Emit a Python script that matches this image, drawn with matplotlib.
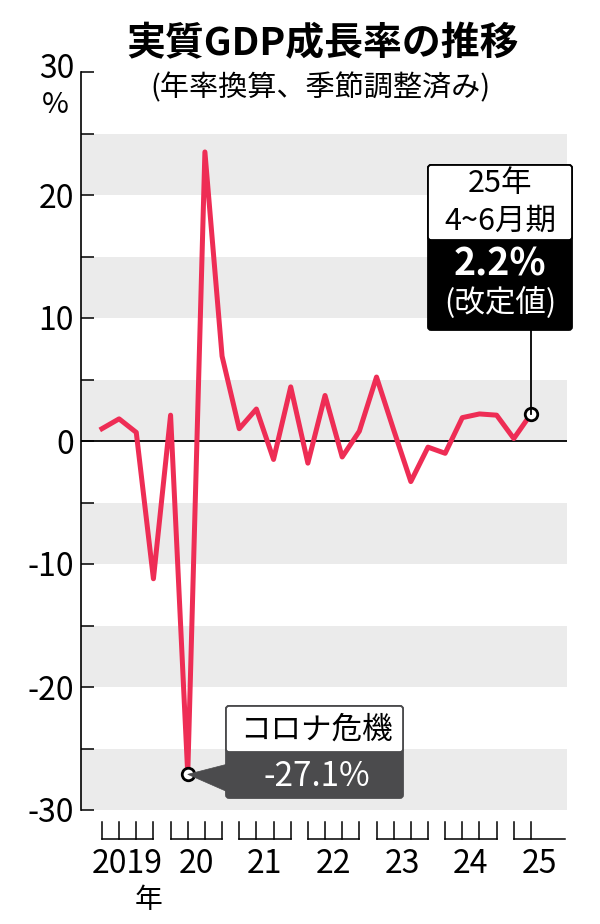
import numpy as np
import matplotlib
matplotlib.use("Agg")
import matplotlib.pyplot as plt
from matplotlib.patches import FancyBboxPatch, Polygon
from matplotlib.transforms import Affine2D, ScaledTranslation, blended_transform_factory

# 実質GDP成長率（年率換算、季節調整済み）2019年1~3月期 ~ 2025年4~6月期
growth = [1.0, 1.8, 0.7, -11.2,
          2.1, -27.1, 23.5, 6.9,
          1.0, 2.6, -1.5, 4.4,
          -1.8, 3.7, -1.3, 0.8,
          5.2, 0.9, -3.3, -0.5,
          -1.0, 1.9, 2.2, 2.1,
          0.2, 2.2]
years = [2019, 2020, 2021, 2022, 2023, 2024, 2025]
year_labels = ["2019", "20", "21", "22", "23", "24", "25"]
yticks = [-30, -20, -10, 0, 10, 20, 30]
ytick_labels = ["-30", "-20", "-10", "0", "10", "20", "30"]
bands = [(20, 25), (10, 15), (0, 5), (-10, -5), (-20, -15), (-30, -25)]

plt.rcParams["font.family"] = ["Noto Sans CJK JP", "DejaVu Sans"]

W, H = 600, 924
fig = plt.figure(figsize=(W / 100, H / 100), dpi=100)
# pixel coords measured from top-left
px = Affine2D().scale(1 / 100, -1 / 100).translate(0, H / 100) + fig.dpi_scale_trans

ax = fig.add_axes([81 / W, 1 - 810 / H, (567 - 81) / W, (810 - 72) / H])
x = np.arange(len(growth))
ax.set_xlim(-1.22, 27.1)
ax.set_ylim(-30, 30)

for lo, hi in bands:
    ax.axhspan(lo, hi, color="#ebebeb", lw=0, zorder=0)
ax.axhline(0, color="black", lw=1.3, zorder=1)
ax.plot(x, growth, color="#ee2d55", lw=3.6, zorder=3, solid_joinstyle="round")

for s in ["top", "right", "bottom"]:
    ax.spines[s].set_visible(False)
ax.spines["left"].set_linewidth(1.2)
ax.set_xticks([])
ax.set_yticks(yticks)
ax.set_yticklabels(ytick_labels)
ax.set_yticks([-25, -15, -5, 5, 15, 25], minor=True)
ax.tick_params(axis="y", which="both", direction="in", length=9, width=1.1,
               labelsize=23, pad=5)
top_lbl = ax.yaxis.get_major_ticks()[-1].label1
top_lbl.set_transform(top_lbl.get_transform() + ScaledTranslation(0, 0.06, fig.dpi_scale_trans))

fig.text(55, 105, "%", transform=px, fontsize=21, ha="center", va="center")

# year brackets under the axis
bt = blended_transform_factory(ax.transData, ax.transAxes)
y_top = (810 - 822) / 738
y_bot = (810 - 839) / 738
for k, yr in enumerate(years):
    q0 = 4 * k
    qs = [i for i in range(q0, q0 + 4) if i < len(growth)]
    ax.plot([q0, q0 + 3], [y_bot, y_bot], color="black", lw=1.1, transform=bt, clip_on=False)
    for q in qs:
        ax.plot([q, q], [y_top, y_bot], color="black", lw=1.1, transform=bt, clip_on=False)
    ax.text(q0 + 1.5, (810 - 864) / 738, year_labels[k], transform=bt,
            fontsize=23, ha="center", va="center")
ax.text(2.7, (810 - 900) / 738, "年", transform=bt, fontsize=20, ha="center", va="center")

# title
fig.text(323, 44, "実質GDP成長率の推移", transform=px, fontsize=28,
         fontweight="bold", ha="center", va="center")
fig.text(320, 88, "(年率換算、季節調整済み)", transform=px, fontsize=21,
         ha="center", va="center")


def to_px(xd, yd):
    return px.inverted().transform(ax.transData.transform((xd, yd)))


# callout: latest value
last_i, last_v = x[-1], growth[-1]
lx, ly = to_px(last_i, last_v)
fig.add_artist(plt.Line2D([lx, lx], [ly, 330], color="black", lw=1.3, transform=px))
fig.add_artist(FancyBboxPatch((428, 165), 144, 165, boxstyle="round,pad=0,rounding_size=3",
                              fc="black", ec="black", lw=1.3, transform=px))
fig.add_artist(FancyBboxPatch((428, 165), 144, 75, boxstyle="round,pad=0,rounding_size=3",
                              fc="white", ec="black", lw=1.3, transform=px))
fig.text(500, 183, "25年", transform=px, fontsize=22, ha="center", va="center")
fig.text(500, 221, "4~6月期", transform=px, fontsize=22, ha="center", va="center")
fig.text(500, 264, f"{last_v:.1f}%", transform=px, fontsize=27, fontweight="bold",
         color="white", ha="center", va="center")
fig.text(500, 303, "(改定値)", transform=px, fontsize=22, color="white",
         ha="center", va="center")
ax.plot(last_i, last_v, "o", ms=9, mfc="white", mec="black", mew=2, zorder=6, clip_on=False)

# callout: corona crisis low
min_i = int(np.argmin(growth))
min_v = growth[min_i]
mx, my = to_px(min_i, min_v)
dark = "#4b4b4d"
fig.add_artist(Polygon([(mx, my), (228, 764), (228, 792)], closed=True, fc=dark, ec=dark,
                       lw=0.5, transform=px))
fig.add_artist(FancyBboxPatch((226, 706), 177, 92, boxstyle="round,pad=0,rounding_size=3",
                              fc=dark, ec=dark, lw=1.3, transform=px))
fig.add_artist(FancyBboxPatch((226, 706), 177, 46, boxstyle="round,pad=0,rounding_size=3",
                              fc="white", ec=dark, lw=1.3, transform=px))
fig.text(316, 730, "コロナ危機", transform=px, fontsize=22, ha="center", va="center")
fig.text(317, 776, f"{min_v:.1f}%", transform=px, fontsize=24, color="white",
         ha="center", va="center")
ax.plot(min_i, min_v, "o", ms=9, mfc="white", mec="black", mew=2, zorder=6, clip_on=False)

fig.savefig("out.png", dpi=100)
